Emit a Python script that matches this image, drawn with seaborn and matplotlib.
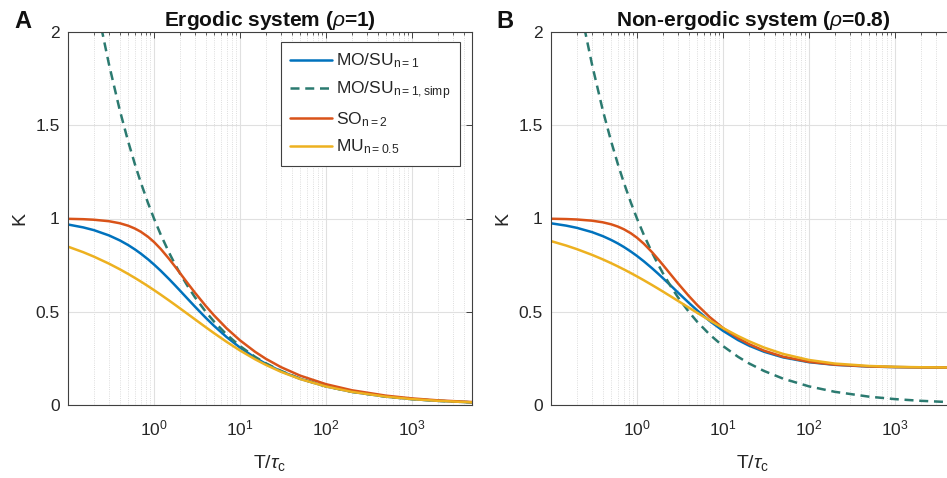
import matplotlib
matplotlib.use('Agg')
import matplotlib.pyplot as plt
import matplotlib.ticker as mticker
import seaborn as sns

# exposure time / correlation time
x_ratio = [0.1, 0.15, 0.2, 0.3, 0.4, 0.5, 0.6, 0.7, 0.85, 1, 1.2, 1.5, 1.75,
           2, 2.5, 3, 4, 5, 7, 10, 15, 20, 30, 50, 100, 200, 500, 1000, 2000,
           5000]

# panel A: ergodic (rho = 1)
k_mosu_erg = [0.9678, 0.9524, 0.9376, 0.9092, 0.8827, 0.8578, 0.8343, 0.8123,
              0.7816, 0.7534, 0.7195, 0.6749, 0.6427, 0.6142, 0.5662, 0.5272,
              0.4677, 0.4243, 0.3642, 0.3082, 0.2539, 0.2208, 0.1810, 0.1407,
              0.0998, 0.0706, 0.0447, 0.0316, 0.0224, 0.0141]
k_so_erg = [0.9983, 0.9963, 0.9934, 0.9854, 0.9746, 0.9614, 0.9462, 0.9294,
            0.9023, 0.8741, 0.8364, 0.7833, 0.7436, 0.7083, 0.6491, 0.6019,
            0.5311, 0.4803, 0.4109, 0.3469, 0.2852, 0.2478, 0.2030, 0.1577,
            0.1117, 0.0791, 0.0500, 0.0354, 0.0250, 0.0158]
k_mu_erg = [0.8490, 0.8195, 0.7956, 0.7578, 0.7279, 0.7029, 0.6814, 0.6625,
            0.6377, 0.6162, 0.5914, 0.5601, 0.5380, 0.5186, 0.4860, 0.4592,
            0.4171, 0.3851, 0.3386, 0.2925, 0.2451, 0.2151, 0.1780, 0.1393,
            0.0993, 0.0704, 0.0447, 0.0316, 0.0224, 0.0141]

# panel B: non-ergodic (rho = 0.8)
k_mosu_ne = [0.9742, 0.9618, 0.9499, 0.9270, 0.9055, 0.8852, 0.8661, 0.8480,
             0.8226, 0.7992, 0.7707, 0.7330, 0.7053, 0.6805, 0.6381, 0.6030,
             0.5484, 0.5077, 0.4509, 0.3980, 0.3480, 0.3188, 0.2857, 0.2554,
             0.2296, 0.2154, 0.2063, 0.2032, 0.2016, 0.2006]
k_so_ne = [0.9987, 0.9970, 0.9947, 0.9883, 0.9796, 0.9690, 0.9566, 0.9429,
           0.9206, 0.8970, 0.8651, 0.8190, 0.7836, 0.7515, 0.6967, 0.6522,
           0.5851, 0.5369, 0.4718, 0.4130, 0.3584, 0.3269, 0.2914, 0.2591,
           0.2316, 0.2164, 0.2067, 0.2034, 0.2017, 0.2007]
k_mu_ne = [0.8788, 0.8550, 0.8357, 0.8051, 0.7809, 0.7605, 0.7430, 0.7275,
           0.7072, 0.6895, 0.6690, 0.6431, 0.6247, 0.6085, 0.5810, 0.5583,
           0.5224, 0.4947, 0.4539, 0.4127, 0.3697, 0.3422, 0.3082, 0.2739,
           0.2415, 0.2222, 0.2093, 0.2047, 0.2024, 0.2010]

# simplified MO/SU (same curve in both panels)
x_simp = [0.2, 0.25, 0.3, 0.4, 0.5, 0.6, 0.7, 0.85, 1, 1.2, 1.5, 1.75, 2, 2.5,
          3, 4, 5, 7, 10, 15, 20, 30, 50, 100, 200, 500, 1000, 2000, 5000]
k_simp = [2.2361, 2.0, 1.8257, 1.5811, 1.4142, 1.2910, 1.1952, 1.0847, 1.0,
          0.9129, 0.8165, 0.7559, 0.7071, 0.6325, 0.5774, 0.5, 0.4472, 0.3780,
          0.3162, 0.2582, 0.2236, 0.1826, 0.1414, 0.1000, 0.0707, 0.0447,
          0.0316, 0.0224, 0.0141]

labels = ['MO/SU$_\\mathregular{n{=}1}$', 'MO/SU$_\\mathregular{n{=}1,simp}$',
          'SO$_\\mathregular{n{=}2}$', 'MU$_\\mathregular{n{=}0.5}$']
colors = ['#0072BD', '#2B7A70', '#D95319', '#EDB120']

sns.set_theme(style='white')
plt.rcParams['font.family'] = ['Liberation Sans', 'DejaVu Sans']
plt.rcParams['mathtext.fontset'] = 'custom'
plt.rcParams['mathtext.rm'] = 'Liberation Sans'
plt.rcParams['mathtext.it'] = 'Liberation Sans:italic'
plt.rcParams['mathtext.bf'] = 'Liberation Sans:bold'

fig = plt.figure(figsize=(9.47, 4.78), dpi=100)
W, H = 947, 478
text_color = '#262626'


def add_axes(left_px):
    return fig.add_axes([left_px / W, (H - 405) / H, 404 / W, 373 / H])


def style_axes(ax, title, letter, letter_x):
    ax.set_xscale('log')
    ax.set_xlim(0.1, 5000)
    ax.set_ylim(0, 2)
    ax.set_xticks([1, 10, 100, 1000])
    ax.xaxis.set_minor_locator(mticker.LogLocator(base=10, subs=range(2, 10), numticks=20))
    ax.xaxis.set_minor_formatter(mticker.NullFormatter())
    ax.set_yticks([0, 0.5, 1, 1.5, 2])
    ax.set_yticklabels(['0', '0.5', '1', '1.5', '2'])
    ax.grid(True, which='major', color='#e0e0e0', linewidth=0.8, linestyle='-')
    ax.grid(True, which='minor', axis='x', color='#d2d2d2', linewidth=0.6, linestyle=':')
    ax.set_axisbelow(True)
    ax.tick_params(which='both', direction='in', top=True, right=True,
                   colors='#404040', labelcolor=text_color, labelsize=12.5)
    ax.tick_params(which='major', length=4, width=0.7)
    ax.tick_params(which='minor', length=2, width=0.6)
    ax.tick_params(axis='x', pad=10)
    ax.tick_params(axis='y', pad=6)
    for spine in ax.spines.values():
        spine.set_color('#404040')
        spine.set_linewidth(0.8)
    ax.set_xlabel('T/$\\tau_\\mathregular{c}$', fontsize=14, color=text_color)
    ax.set_ylabel('K', fontsize=14, color=text_color)
    ax.xaxis.set_label_coords(0.5, -0.13)
    ax.yaxis.set_label_coords(-0.097, 0.5)
    ax.set_title(title, fontsize=15, fontweight='bold', pad=4, color='#111111')
    fig.text(letter_x / W, 1 - 22 / H, letter, fontsize=17, fontweight='bold',
             ha='center', va='center', color='#111111')


def draw(ax, k1, k2, k3):
    sns.lineplot(x=x_ratio, y=k1, ax=ax, color=colors[0], linewidth=1.8,
                 estimator=None, sort=False, label=labels[0])
    sns.lineplot(x=x_simp, y=k_simp, ax=ax, color=colors[1], linewidth=1.8,
                 estimator=None, sort=False, label=labels[1])
    ax.lines[-1].set_dashes((3.6, 2.3))
    sns.lineplot(x=x_ratio, y=k2, ax=ax, color=colors[2], linewidth=1.8,
                 estimator=None, sort=False, label=labels[2])
    sns.lineplot(x=x_ratio, y=k3, ax=ax, color=colors[3], linewidth=1.8,
                 estimator=None, sort=False, label=labels[3])


ax_a = add_axes(68)
draw(ax_a, k_mosu_erg, k_so_erg, k_mu_erg)
style_axes(ax_a, 'Ergodic system ($\\rho$=1)', 'A', 23)
leg = ax_a.legend(loc='upper right', bbox_to_anchor=(0.971, 0.973), fontsize=12.5,
                  handlelength=2.4, handletextpad=0.25, labelspacing=0.5,
                  borderpad=0.55, borderaxespad=0, fancybox=False, framealpha=1,
                  edgecolor='#404040')
leg.get_frame().set_linewidth(0.8)

ax_b = add_axes(551)
draw(ax_b, k_mosu_ne, k_so_ne, k_mu_ne)
style_axes(ax_b, 'Non-ergodic system ($\\rho$=0.8)', 'B', 505)
ax_b.get_legend().remove()

fig.savefig('out.png', dpi=100)
